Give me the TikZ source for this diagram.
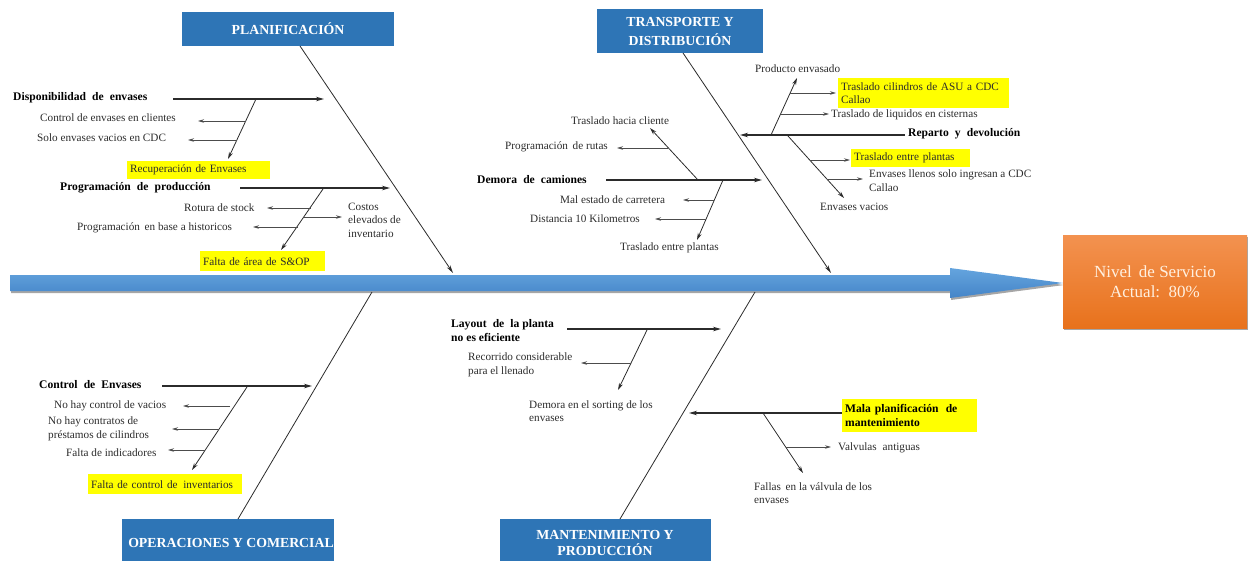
\documentclass[tikz,border=0pt]{standalone}
\usepackage{fontspec}
\setmainfont{Liberation Serif}
\usetikzlibrary{arrows.meta,shadows}

\definecolor{catblue}{HTML}{2E75B6}
\definecolor{spinetop}{HTML}{64A4DE}
\definecolor{spinebot}{HTML}{4585C8}
\definecolor{headtop}{HTML}{F39250}
\definecolor{headbot}{HTML}{E8721C}
\definecolor{hlyellow}{HTML}{FFFF00}
\definecolor{ink}{HTML}{2B2B2B}

\tikzset{
  lbl/.style={font=\fontsize{11.2}{13.5}\selectfont, text=ink, inner sep=0pt, anchor=west, align=left},
  blbl/.style={lbl, font=\fontsize{11.6}{14.5}\selectfont\bfseries, text=black},
  hlbox/.style={fill=hlyellow, inner xsep=3pt, inner ysep=0pt, anchor=north west, align=left,
                font=\fontsize{11.2}{13}\selectfont, text=ink},
  catbox/.style={fill=catblue, text=white, inner sep=0pt, align=center,
                 font=\fontsize{13.8}{19}\selectfont\bfseries},
  catbone/.style={draw=ink, line width=0.8pt},
  subbone/.style={draw=ink, line width=1.6pt, -{Stealth[length=8pt,width=4.5pt]}},
  branch/.style={draw=ink, line width=0.8pt, -{Stealth[length=7pt,width=4pt]}},
  twig/.style={draw=black!70, line width=0.8pt, -{Stealth[length=6pt,width=3.5pt]}},
  softshadow/.style={drop shadow={shadow xshift=1pt, shadow yshift=-2pt, opacity=0.35, fill=black}},
}

\begin{document}
\begin{tikzpicture}[x=1pt,y=-1pt]
\useasboundingbox (0,0) rectangle (1249,560);

% ---------- spine and effect ----------
\path[softshadow, top color=spinetop, bottom color=spinebot]
  (10,275) -- (950,275) -- (950,268) -- (1063,283) -- (950,298) -- (950,291) -- (10,291) -- cycle;
\node[softshadow, top color=headtop, bottom color=headbot, minimum width=184pt, minimum height=93pt,
      inner sep=0pt, text=white!88!orange, font=\fontsize{17}{20}\selectfont, align=center]
  (eff) at (1155,281.5) {Nivel\, de Servicio\\Actual:\, 80\%};

% ---------- category boxes ----------
\node[catbox, minimum width=212pt, minimum height=34pt] (pla) at (288,29) {PLANIFICACIÓN};
\node[catbox, minimum width=166pt, minimum height=44pt] (tra) at (680,31) {TRANSPORTE Y\\DISTRIBUCIÓN};
\node[catbox, minimum width=212pt, minimum height=42pt, anchor=north west] (ope) at (122,519) {};
\node[font=\fontsize{13.8}{19}\selectfont\bfseries, text=white, inner sep=0pt] (opet) at (231,543) {OPERACIONES Y COMERCIAL};
\node[catbox, minimum width=211pt, minimum height=42pt, anchor=north west] (man) at (500,519) {};
\node[font=\fontsize{13.8}{16.5}\selectfont\bfseries, text=white, inner sep=0pt, align=center] (mant) at (605,543) {MANTENIMIENTO Y\\PRODUCCIÓN};

% ---------- main bones ----------
\coordinate (plaA) at (300,46);   \coordinate (plaB) at (453,273);
\coordinate (traA) at (683,53);   \coordinate (traB) at (831,273);
\coordinate (opeA) at (238,519);  \coordinate (opeB) at (372,292);
\coordinate (manA) at (620,519);  \coordinate (manB) at (755,292);
\draw[catbone, -{Stealth[length=8pt,width=4pt]}] (plaA) -- (plaB);
\draw[catbone, -{Stealth[length=8pt,width=4pt]}] (traA) -- (traB);
\draw[catbone] (opeA) -- (opeB);
\draw[catbone] (manA) -- (manB);

% ---------- PLANIFICACIÓN ----------
\node[blbl] (dis) at (13,98) {Disponibilidad\; de\; envases};
\node[lbl] (cec) at (40,118) {Control de envases en clientes};
\node[lbl] (sev) at (37,138) {Solo envases vacios en CDC};
\node[hlbox, minimum width=143pt, minimum height=18pt, text width=137pt] (rec) at (127,161) {Recuperación de Envases};
\node[blbl] (pro) at (60,188) {Programación\; de\; producción};
\node[lbl] (rot) at (184,208) {Rotura de stock};
\node[lbl] (pbh) at (77,228) {Programación\, en base a historicos};
\node[lbl] (cos) at (348,220) {Costos\\elevados de\\inventario};
\node[hlbox, minimum width=125pt, minimum height=20pt, text width=119pt] (fal) at (200,251) {Falta de área de S\&OP};

\coordinate (d1) at (173,99);  \coordinate (d2) at (324,99);
\coordinate (d3) at (256,99);  \coordinate (d4) at (228,159);
\coordinate (d5) at (246,121); \coordinate (d6) at (198,121);
\coordinate (d7) at (237,140); \coordinate (d8) at (188,140);
\draw[subbone] (d1) -- (d2);
\draw[branch] (d3) -- (d4);
\draw[twig] (d5) -- (d6);
\draw[twig] (d7) -- (d8);

\coordinate (p1) at (240,188); \coordinate (p2) at (390,188);
\coordinate (p3) at (323,189); \coordinate (p4) at (281,250);
\coordinate (p5) at (311,208); \coordinate (p6) at (267,208);
\coordinate (p7) at (298,227); \coordinate (p8) at (253,227);
\coordinate (p9) at (304,217); \coordinate (p10) at (342,217);
\draw[subbone] (p1) -- (p2);
\draw[branch] (p3) -- (p4);
\draw[twig] (p5) -- (p6);
\draw[twig] (p7) -- (p8);
\draw[twig] (p9) -- (p10);

% ---------- TRANSPORTE Y DISTRIBUCIÓN ----------
\node[blbl] (dem) at (477,180) {Demora\; de\; camiones};
\node[lbl] (thc) at (571,121) {Traslado hacia cliente};
\node[lbl] (pdr) at (505,147) {Programación\, de rutas};
\node[lbl] (mec) at (560,200) {Mal estado de carretera};
\node[lbl] (dkm) at (530,219) {Distancia 10 Kilometros};
\node[lbl] (tep) at (620,248) {Traslado entre plantas};

\coordinate (c1) at (606,180); \coordinate (c2) at (762,180);
\coordinate (c3) at (698,180); \coordinate (c4) at (650,128);
\coordinate (c5) at (668,148); \coordinate (c6) at (617,148);
\coordinate (c7) at (723,180); \coordinate (c8) at (697,240);
\coordinate (c9) at (714,200); \coordinate (c10) at (683,200);
\coordinate (c11) at (706,219); \coordinate (c12) at (655,219);
\draw[subbone] (c1) -- (c2);
\draw[branch] (c3) -- (c4);
\draw[twig] (c5) -- (c6);
\draw[branch] (c7) -- (c8);
\draw[twig] (c9) -- (c10);
\draw[twig] (c11) -- (c12);

\node[blbl] (rep) at (908,134) {Reparto\; y\; devolución};
\node[lbl] (pen) at (755,69) {Producto envasado};
\node[hlbox, minimum width=171pt, minimum height=30pt, text width=165pt] (tca) at (838,78) {Traslado cilindros de ASU a CDC\\Callao};
\node[lbl] (tlc) at (831,115) {Traslado de liquidos en cisternas};
\node[hlbox, minimum width=119pt, minimum height=18pt, text width=113pt] (tep2) at (851,149) {Traslado entre plantas};
\node[lbl] (ell) at (869,180.5) {Envases llenos solo ingresan a CDC\\Callao};
\node[lbl] (evv) at (820,207) {Envases vacios};

\coordinate (r1) at (905,135); \coordinate (r2) at (740,135);
\coordinate (r3) at (771,135); \coordinate (r4) at (797,78);
\coordinate (r5) at (790,93);  \coordinate (r6) at (836,93);
\coordinate (r7) at (781,114); \coordinate (r8) at (829,114);
\coordinate (r9) at (788,136); \coordinate (r10) at (844,198);
\coordinate (r11) at (810,160); \coordinate (r12) at (850,160);
\coordinate (r13) at (827,179); \coordinate (r14) at (863,179);
\draw[subbone] (r1) -- (r2);
\draw[branch] (r3) -- (r4);
\draw[twig] (r5) -- (r6);
\draw[twig] (r7) -- (r8);
\draw[branch] (r9) -- (r10);
\draw[twig] (r11) -- (r12);
\draw[twig] (r13) -- (r14);

% ---------- OPERACIONES Y COMERCIAL ----------
\node[blbl] (cde) at (39,385) {Control\; de\; Envases};
\node[lbl] (nhc) at (54,406) {No hay control de vacios};
\node[lbl] (nhp) at (48,429) {No hay contratos de\\préstamos de cilindros};
\node[lbl] (fdi) at (66,453) {Falta de indicadores};
\node[hlbox, minimum width=154pt, minimum height=20pt, text width=148pt] (fci) at (88,474) {Falta de control de\, inventarios};

\coordinate (o1) at (162,386); \coordinate (o2) at (312,386);
\coordinate (o3) at (247,387); \coordinate (o4) at (192,470);
\coordinate (o5) at (230,406); \coordinate (o6) at (183,406);
\coordinate (o7) at (219,429); \coordinate (o8) at (172,429);
\coordinate (o9) at (205,450); \coordinate (o10) at (168,450);
\draw[subbone] (o1) -- (o2);
\draw[branch] (o3) -- (o4);
\draw[twig] (o5) -- (o6);
\draw[twig] (o7) -- (o8);
\draw[twig] (o9) -- (o10);

% ---------- MANTENIMIENTO Y PRODUCCIÓN ----------
\node[blbl] (lay) at (451,330.5) {Layout\; de\; la planta\\no es eficiente};
\node[lbl] (rcl) at (468,365) {Recorrido considerable\\para el llenado};
\node[lbl] (dso) at (529,411) {Demora en el sorting de los\\envases};
\node[hlbox, minimum width=135pt, minimum height=33pt, text width=129pt,
      font=\fontsize{11.6}{14.5}\selectfont\bfseries, text=black] (mpm) at (842,399) {Mala planificación\; de\\mantenimiento};
\node[lbl] (vant) at (838,448) {Valvulas\; antiguas};
\node[lbl] (fvv) at (754,493) {Fallas\, en la válvula de los\\envases};

\coordinate (m1) at (567,329); \coordinate (m2) at (721,329);
\coordinate (m3) at (647,330); \coordinate (m4) at (618,390);
\coordinate (m5) at (631,363); \coordinate (m6) at (581,363);
\coordinate (m7) at (842,413); \coordinate (m8) at (689,413);
\coordinate (m9) at (763,413); \coordinate (m10) at (803,473);
\coordinate (m11) at (786,447); \coordinate (m12) at (831,447);
\draw[subbone] (m1) -- (m2);
\draw[branch] (m3) -- (m4);
\draw[twig] (m5) -- (m6);
\draw[subbone] (m7) -- (m8);
\draw[branch] (m9) -- (m10);
\draw[twig] (m11) -- (m12);
\end{tikzpicture}
\end{document}
